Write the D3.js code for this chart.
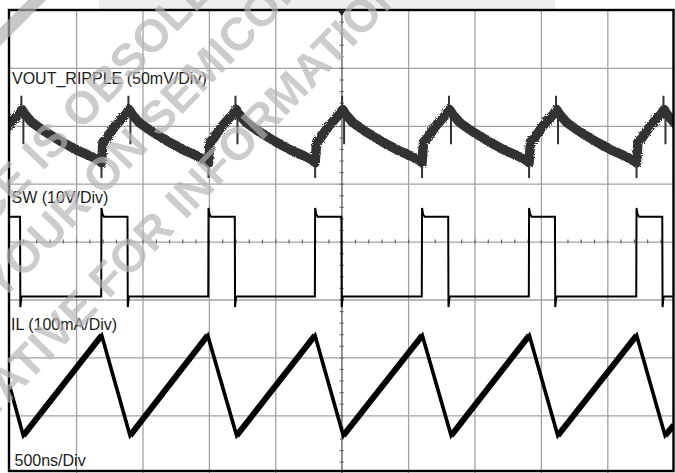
<!DOCTYPE html>
<html><head><meta charset="utf-8">
<script src="https://cdn.jsdelivr.net/npm/d3@7"></script>
<style>html,body{margin:0;padding:0;background:#fff;overflow:hidden}text{white-space:pre}</style>
</head><body><svg id="c" width="675" height="473"></svg>
<script>
// ---------------- data ----------------
const timeDomain = [0, 5000];          // ns (10 div x 500 ns)
const divDomain = [-4, 4];             // vertical divisions
const channelLabels = ["VOUT_RIPPLE (50mV/Div)", "SW (10V/Div)", "IL (100mA/Div)"];
const timebaseLabel = "500ns/Div";

// VOUT ripple, [ns, mV]
const voutRipple = [
  [-115,-24],[-104,-6],[-77,-3],[-17,7],[36,14],[69,18],[92,22],[115,18],[167,11],[258,3.5],[393,-6],[506,-13],[604,-18],[679,-22.5],
  [691,-24],[702,-6],[729,-3],[789,7],[842,14],[875,18],[898,22],[921,18],[973,11],[1064,3.5],[1199,-6],[1312,-13],[1410,-18],[1485,-22.5],
  [1497,-24],[1508,-6],[1535,-3],[1595,7],[1648,14],[1681,18],[1704,22],[1727,18],[1779,11],[1870,3.5],[2005,-6],[2118,-13],[2216,-18],[2291,-22.5],
  [2300,-24],[2311,-6],[2338,-3],[2398,7],[2451,14],[2484,18],[2507,22],[2530,18],[2582,11],[2673,3.5],[2808,-6],[2921,-13],[3019,-18],[3094,-22.5],
  [3105,-24],[3116,-6],[3143,-3],[3203,7],[3256,14],[3289,18],[3312,22],[3335,18],[3387,11],[3478,3.5],[3613,-6],[3726,-13],[3824,-18],[3899,-22.5],
  [3911,-24],[3922,-6],[3949,-3],[4009,7],[4062,14],[4095,18],[4118,22],[4141,18],[4193,11],[4284,3.5],[4419,-6],[4532,-13],[4630,-18],[4705,-22.5],
  [4720,-24],[4731,-6],[4758,-3],[4818,7],[4871,14],[4904,18],[4927,22],[4950,18],[5002,11],[5093,3.5]
];
// VOUT spikes, [ns, mV from, mV to]
const voutSpikes = [
  [88,20,34],[103,18,-8],
  [691,-24,-37],[721,-6,3],[894,20,34],[909,18,-8],
  [1497,-24,-37],[1527,-6,3],[1700,20,34],[1715,18,-8],
  [2300,-24,-37],[2330,-6,3],[2503,20,34],[2518,18,-8],
  [3105,-24,-37],[3135,-6,3],[3308,20,34],[3323,18,-8],
  [3911,-24,-37],[3941,-6,3],[4114,20,34],[4129,18,-8],
  [4720,-24,-37],[4750,-6,3],[4923,20,34],[4938,18,-8]
];
// SW node, [ns, V]
const swNode = [
  [0,13.8],[78,13.8],[80,-1.8],[88,0],
  [689,0],[691,15.3],[699,14.2],[710,13.8],[887,13.8],[889,-1.8],[897,0],
  [1495,0],[1497,15.3],[1505,14.2],[1516,13.8],[1695,13.8],[1697,-1.8],[1705,0],
  [2298,0],[2300,15.3],[2308,14.2],[2319,13.8],[2498,13.8],[2500,-1.8],[2508,0],
  [3103,0],[3105,15.3],[3113,14.2],[3124,13.8],[3302,13.8],[3304,-1.8],[3312,0],
  [3909,0],[3911,15.3],[3919,14.2],[3930,13.8],[4106,13.8],[4108,-1.8],[4116,0],
  [4718,0],[4720,15.3],[4728,14.2],[4739,13.8],[4914,13.8],[4916,-1.8],[4924,0],
  [5000,0]
];
// Inductor current, [ns, mA]
const ilCurrent = [
  [0,100],[102,15],[693,188],[906,15],[1491,188],[1709,15],[2299,188],[2512,15],
  [3107,188],[3324,15],[3913,188],[4127,15],[4721,188],[4935,15],[5000,33]
];
const watermarkLines = [
  ["THIS DEVIC", "E IS OBSOLETE"],
  ["CONTACT ", "YOUR ON SEMICONDUCTOR"],
  ["REPRESENT", "ATIVE FOR INFORMATION"]
];

// ---------------- layout ----------------
const X0 = 9.7, X1 = 673.7, Y0 = 10, Y1 = 473.2;
const svg = d3.select("#c");
const x = d3.scaleLinear().domain(timeDomain).range([X0, X1]);
const yDiv = d3.scaleLinear().domain(divDomain).range([Y1, Y0]);
const chan = {
  vout: {offset: 1.84, perDiv: 50},
  sw:   {offset: -0.95, perDiv: 10},
  il:   {offset: -3.5, perDiv: 100}
};
const yOf = c => v => yDiv(c.offset + v / c.perDiv);
const yV = yOf(chan.vout), yS = yOf(chan.sw), yI = yOf(chan.il);

svg.append("rect").attr("width", 675).attr("height", 473).attr("fill", "#fff");
// top strip decoration
svg.append("rect").attr("x", 99).attr("y", 0).attr("width", 456).attr("height", 9).attr("fill", "#eeeeee");

const defs = svg.append("defs");
defs.append("clipPath").attr("id", "box").append("rect")
  .attr("x", X0).attr("y", Y0).attr("width", X1 - X0).attr("height", 461);
const f = defs.append("filter").attr("id", "rough").attr("x", "-5%").attr("y", "-20%").attr("width", "110%").attr("height", "140%");
f.append("feTurbulence").attr("type", "fractalNoise").attr("baseFrequency", "0.9").attr("numOctaves", 2).attr("seed", 3).attr("result", "n");
f.append("feDisplacementMap").attr("in", "SourceGraphic").attr("in2", "n").attr("scale", 3.5);

// grid via axes
const gx = svg.append("g").attr("transform", `translate(0,${Y1})`)
  .call(d3.axisBottom(x).tickValues(d3.range(500, 5000, 500)).tickSize(-(Y1 - Y0)).tickFormat(""));
gx.select(".domain").remove();
gx.selectAll("line").attr("stroke", "#a2a2a2").attr("stroke-width", 1.3);
const gy = svg.append("g").attr("transform", `translate(${X0},0)`)
  .call(d3.axisLeft(yDiv).tickValues([-3, -2, -1, 0, 1, 2, 3]).tickSize(-(X1 - X0)).tickFormat(""));
gy.select(".domain").remove();
gy.selectAll("line").attr("stroke", "#a2a2a2").attr("stroke-width", 1.3);
// center axes darker
svg.append("line").attr("x1", x(2500)).attr("x2", x(2500)).attr("y1", Y0).attr("y2", Y1).attr("stroke", "#808080").attr("stroke-width", 1.3);
// minor ticks
const mx = svg.append("g").attr("transform", `translate(0,${yDiv(0) - 2})`)
  .call(d3.axisBottom(x).tickValues(d3.range(100, 5000, 100)).tickSize(4).tickFormat(""));
mx.select(".domain").remove();
mx.selectAll("line").attr("stroke", "#666").attr("stroke-width", 1.2);
const my = svg.append("g").attr("transform", `translate(${x(2500) + 2},0)`)
  .call(d3.axisLeft(yDiv).tickValues(d3.range(-38, 40, 2).map(d => d / 10)).tickSize(4).tickFormat(""));
my.select(".domain").remove();
my.selectAll("line").attr("stroke", "#666").attr("stroke-width", 1.2);

// traces
const traces = svg.append("g").attr("clip-path", "url(#box)");
const line = (yf) => d3.line().x(d => x(d[0])).y(d => yf(d[1]));

traces.append("path").datum(voutRipple).attr("d", line(yV))
  .attr("fill", "none").attr("stroke", "#333").attr("stroke-width", 9.5).attr("stroke-linejoin", "round")
  .attr("filter", "url(#rough)");
traces.selectAll(".vs").data(voutSpikes).join("line")
  .attr("x1", d => x(d[0])).attr("x2", d => x(d[0]))
  .attr("y1", d => yV(d[1])).attr("y2", d => yV(d[2]))
  .attr("stroke", "#333").attr("stroke-width", 2);

traces.append("path").datum(swNode).attr("d", line(yS))
  .attr("fill", "none").attr("stroke", "#000").attr("stroke-width", 2);
// thicker noisy flat levels
const flats = d3.pairs(swNode).filter(([a, b]) => Math.abs(a[1] - b[1]) < 0.01 && b[0] - a[0] > 20);
traces.selectAll(".fl").data(flats).join("line")
  .attr("x1", d => x(d[0][0])).attr("x2", d => x(d[1][0]))
  .attr("y1", d => yS(d[0][1])).attr("y2", d => yS(d[1][1]))
  .attr("stroke", "#111").attr("stroke-width", 3.8).attr("filter", "url(#rough)");

traces.append("path").datum(ilCurrent).attr("d", line(yI))
  .attr("fill", "none").attr("stroke", "#000").attr("stroke-width", 3.6).attr("stroke-linejoin", "miter");
const rises = d3.pairs(ilCurrent).filter(([a, b]) => b[1] > a[1]);
traces.selectAll(".ir").data(rises).join("line")
  .attr("x1", d => x(d[0][0])).attr("x2", d => x(d[1][0]))
  .attr("y1", d => yI(d[0][1])).attr("y2", d => yI(d[1][1]))
  .attr("stroke", "#000").attr("stroke-width", 6).attr("stroke-linecap", "butt");

// labels
const labelPos = [[12, 83.5], [11.5, 202.5], [11, 330]];
svg.selectAll(".lab").data(channelLabels).join("text")
  .attr("x", (d, i) => labelPos[i][0]).attr("y", (d, i) => labelPos[i][1])
  .attr("font-family", "Liberation Sans, Arial, sans-serif").attr("font-size", 16).attr("fill", "#1c1c1c")
  .text(d => d);
svg.append("text").attr("x", 14.5).attr("y", 466)
  .attr("font-family", "Liberation Sans, Arial, sans-serif").attr("font-size", 16).attr("fill", "#1c1c1c")
  .text(timebaseLabel);

// border
svg.append("rect").attr("x", 9).attr("y", 10).attr("width", 664.5).attr("height", 461)
  .attr("fill", "none").attr("stroke", "#000").attr("stroke-width", 2.4);
// trigger marker
svg.append("path").attr("d", `M${x(2500) - 4},10L${x(2500) + 4},10L${x(2500)},16Z`).attr("fill", "#222");

// watermark
const wmPos = [[12, 203], [1, 302], [8, 404]];
const wm = svg.append("g").attr("fill", "rgb(180,180,180)").attr("opacity", 0.68);
wm.append("path").attr("d", "M0,28L28,0L46,0L0,46Z").attr("fill", "rgb(175,175,175)");
watermarkLines.forEach((parts, i) => {
  const g = wm.append("g").attr("transform", `translate(${wmPos[i][0]},${wmPos[i][1]}) rotate(-46)`);
  const t = g.append("text").attr("font-family", "Liberation Sans, Arial, sans-serif")
    .attr("font-weight", "bold").attr("font-size", 46).text(parts[0] + parts[1]);
  const pre = t.node().getSubStringLength(0, parts[0].length);
  t.attr("x", -pre);
});
</script></body></html>
